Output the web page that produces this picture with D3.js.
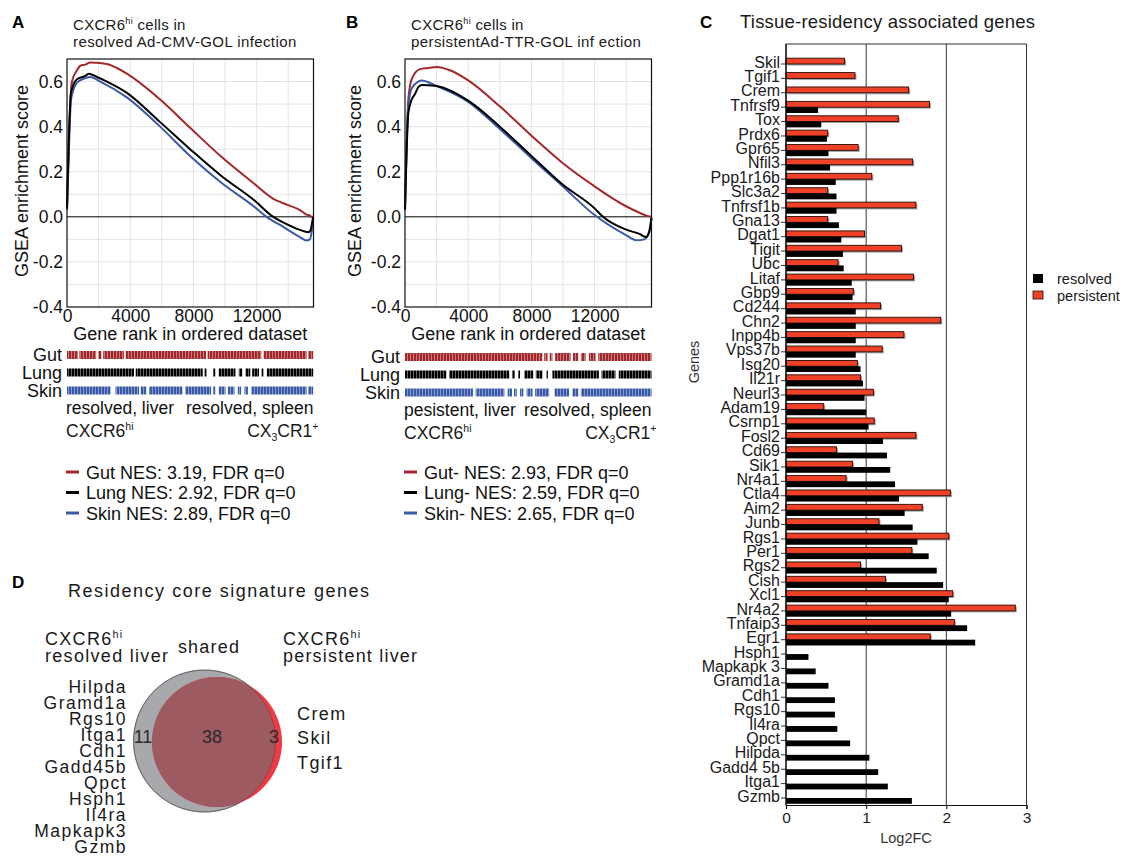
<!DOCTYPE html>
<html>
<head>
<meta charset="utf-8">
<script src="https://cdn.jsdelivr.net/npm/d3@7"></script>
<style>
  body { margin: 0; background: #fff; }
  text { font-family: "Liberation Sans", Arial, sans-serif; }
</style>
</head>
<body>
<div id="chart"></div>
<script>
// ---------- data ----------
const gseaXTicks = [0, 4000, 8000, 12000];
const gseaYTicks = [-0.4, -0.2, 0.0, 0.2, 0.4, 0.6];
const tissues = ["Gut", "Lung", "Skin"];

// running enrichment score, [gene rank, ES]
const gutA = [[0,0.03],[120,0.35],[316,0.6],[632,0.65],[842,0.67],[1158,0.675],[1474,0.685],[1895,0.683],[2526,0.678],[3158,0.66],[3789,0.635],[5895,0.52],[7789,0.395],[9789,0.265],[11789,0.15],[13053,0.08],[13684,0.06],[14737,0.03],[15158,0.01],[15370,0.005],[15474,0.0],[15579,0.0]];
const lungA = [[0,0.04],[120,0.35],[253,0.55],[632,0.61],[1158,0.625],[1368,0.635],[1895,0.62],[2526,0.6],[3789,0.55],[5895,0.42],[7789,0.3],[9789,0.18],[11789,0.077],[13053,0.0],[13684,-0.025],[14737,-0.058],[15263,-0.068],[15410,-0.06],[15474,-0.04],[15579,0.0]];
const skinA = [[0,0.03],[120,0.3],[253,0.52],[632,0.595],[1158,0.615],[1474,0.62],[2105,0.6],[3789,0.53],[5895,0.4],[7789,0.27],[9789,0.15],[11789,0.048],[12632,0.0],[13684,-0.045],[14737,-0.09],[15158,-0.105],[15370,-0.1],[15474,-0.07],[15579,-0.005]];
const gutB = [[0,0.03],[210,0.52],[421,0.61],[947,0.655],[1500,0.66],[2000,0.665],[2842,0.65],[4000,0.605],[6000,0.49],[8000,0.36],[9958,0.24],[11958,0.137],[13958,0.048],[14842,0.018],[15368,0.003],[15600,0.0]];
const lungB = [[0,0.03],[210,0.46],[421,0.52],[632,0.545],[842,0.575],[1053,0.585],[2000,0.58],[4000,0.515],[6000,0.4],[8000,0.27],[9958,0.144],[11958,0.04],[12526,0.0],[13958,-0.056],[14842,-0.076],[15263,-0.09],[15474,-0.064],[15600,-0.005]];
const skinB = [[0,0.03],[210,0.49],[421,0.57],[842,0.6],[1053,0.605],[2000,0.58],[4000,0.51],[6000,0.39],[8000,0.26],[9958,0.137],[11958,0.01],[13958,-0.08],[14632,-0.104],[15158,-0.1],[15474,-0.056],[15600,-0.005]];

// barcode hit regions, [start rank, end rank]
const gutHitsA = [[0,700],[785,1845],[1970,2180],[2290,3600],[3710,8800],[8900,12300],[12440,15160],[15260,15580]];
const lungHitsA = [[0,4240],[4350,8590],[8710,8840],[9260,9390],[9600,10660],[10870,11090],[11300,11600],[11720,12150],[12320,12440],[12650,15580]];
const skinHitsA = [[0,2760],[3070,4560],[4660,5020],[5190,7310],[7480,9120],[9260,9390],[9600,10030],[10180,10600],[10810,11020],[11230,11450],[11660,15160],[15260,15580]];
const gutHitsB = [[0,8700],[8810,9020],[9160,9330],[9500,10480],[10630,10970],[11130,11430],[11640,12060],[12230,15600]];
const lungHitsB = [[0,2620],[2790,6600],[6770,6940],[7150,7280],[7550,8120],[8280,8700],[8960,9040],[9330,12270],[12440,13320],[13530,15600]];
const skinHitsB = [[0,4300],[4470,6290],[6500,6770],[6900,7070],[7280,7490],[7700,8070],[8240,9120],[9460,10380],[10590,10970],[11130,15600]];

const nesA = ["Gut NES: 3.19, FDR q=0", "Lung NES: 2.92, FDR q=0", "Skin NES: 2.89, FDR q=0"];
const nesB = ["Gut- NES: 2.93, FDR q=0", "Lung- NES: 2.59, FDR q=0", "Skin- NES: 2.65, FDR q=0"];

const genes = ["Skil","Tgif1","Crem","Tnfrsf9","Tox","Prdx6","Gpr65","Nfil3","Ppp1r16b","Slc3a2","Tnfrsf1b","Gna13","Dgat1","Tigit","Ubc","Litaf","Gbp9","Cd244","Chn2","Inpp4b","Vps37b","Isg20","Il21r","Neurl3","Adam19","Csrnp1","Fosl2","Cd69","Sik1","Nr4a1","Ctla4","Aim2","Junb","Rgs1","Per1","Rgs2","Cish","Xcl1","Nr4a2","Tnfaip3","Egr1","Hsph1","Mapkapk 3","Gramd1a","Cdh1","Rgs10","Il4ra","Qpct","Hilpda","Gadd4 5b","Itga1","Gzmb"];
const resolvedFC = [null,null,null,0.40,0.44,0.51,0.53,0.55,0.62,0.63,0.63,0.66,0.69,0.71,0.72,0.82,0.83,0.87,0.87,0.87,0.87,0.93,0.96,0.98,1.00,1.03,1.21,1.26,1.30,1.36,1.41,1.48,1.58,1.64,1.78,1.88,1.96,2.03,2.06,2.26,2.36,0.28,0.37,0.53,0.61,0.61,0.64,0.80,1.04,1.15,1.27,1.57];
const persistentFC = [0.73,0.86,1.53,1.79,1.40,0.52,0.90,1.58,1.07,0.52,1.62,0.52,0.98,1.44,0.65,1.59,0.84,1.18,1.93,1.47,1.20,0.89,0.93,1.09,0.47,1.10,1.62,0.63,0.83,0.75,2.05,1.70,1.16,2.03,1.57,0.93,1.24,2.08,2.86,2.10,1.80,null,null,null,null,null,null,null,null,null,null,null];
const fcTicks = [0, 1, 2, 3];

const vennCounts = [11, 38, 3];
const resolvedOnly = ["Hilpda","Gramd1a","Rgs10","Itga1","Cdh1","Gadd45b","Qpct","Hsph1","Il4ra","Mapkapk3","Gzmb"];
const persistentOnly = ["Crem","Skil","Tgif1"];

// ---------- drawing ----------
const tissueColors = ["#a3282c", "#000000", "#3a5aa8"];

const svg = d3.select("#chart")
    .append("svg")
    .attr("width", 1128)
    .attr("height", 857);

const defs = svg.append("defs");
tissues.forEach((t, i) => {
    const p = defs.append("pattern")
        .attr("id", "stripe" + i)
        .attr("patternUnits", "userSpaceOnUse")
        .attr("width", 3)
        .attr("height", 20);
    p.append("rect").attr("width", 2.6).attr("height", 20).attr("fill", tissueColors[i]);
});

// text with a raised or lowered part
function richText(x, y, parts, size, anchor) {
    const t = svg.append("text")
        .attr("x", x).attr("y", y)
        .attr("font-size", size)
        .attr("text-anchor", anchor || "start")
        .attr("fill", "#1a1a1a");
    let shift = 0;
    parts.forEach(p => {
        const off = p.sup ? -size * 0.38 : p.sub ? size * 0.25 : 0;
        t.append("tspan")
            .attr("dy", off - shift)
            .attr("font-size", (p.sup || p.sub) ? size * 0.6 : size)
            .text(p.t);
        shift = off;
    });
    return t;
}

function panelLetter(x, y, s) {
    svg.append("text").attr("x", x).attr("y", y)
        .attr("font-size", 17).attr("font-weight", "bold").text(s);
}

function gseaPanel(cfg) {
    const left = cfg.left, right = left + 246.5;
    const top = 59, bottom = 307;
    const x = d3.scaleLinear().domain([0, 15600]).range([left, right]);
    const y = d3.scaleLinear().domain([-0.4, 0.7]).range([bottom, top]);
    const g = svg.append("g");

    // grid
    g.selectAll(".vg").data(x.ticks(8).filter(v => v > 0)).enter()
        .append("line")
        .attr("x1", d => x(d)).attr("x2", d => x(d))
        .attr("y1", top).attr("y2", bottom)
        .attr("stroke", "#e3e3e3").attr("stroke-width", 1);
    g.selectAll(".hg").data(y.ticks(11).filter(v => Math.abs(v) > 1e-9 && v > -0.39 && v < 0.69)).enter()
        .append("line")
        .attr("x1", left).attr("x2", right)
        .attr("y1", d => y(d)).attr("y2", d => y(d))
        .attr("stroke", "#e3e3e3").attr("stroke-width", 1);

    // zero line
    g.append("line")
        .attr("x1", left).attr("x2", right)
        .attr("y1", y(0)).attr("y2", y(0))
        .attr("stroke", "#000").attr("stroke-width", 1);

    // curves
    const line = d3.line().x(d => x(d[0])).y(d => y(d[1])).curve(d3.curveMonotoneX);
    [0, 2, 1].forEach(i => {
        g.append("path")
            .datum(cfg.curves[i])
            .attr("fill", "none")
            .attr("stroke", tissueColors[i])
            .attr("stroke-width", 2)
            .attr("stroke-linejoin", "round")
            .attr("d", line);
    });

    // frame
    g.append("rect")
        .attr("x", left).attr("y", top)
        .attr("width", right - left).attr("height", bottom - top)
        .attr("fill", "none").attr("stroke", "#111").attr("stroke-width", 1.2);

    // axes
    const ya = g.append("g")
        .attr("transform", `translate(${left},0)`)
        .call(d3.axisLeft(y).tickValues(gseaYTicks).tickSize(0).tickPadding(4)
            .tickFormat(d => d.toFixed(1)));
    ya.select(".domain").remove();
    ya.selectAll("text").attr("font-size", 17.5).attr("fill", "#111")
        .style("font-family", "'Liberation Sans', Arial, sans-serif");

    const xa = g.append("g")
        .attr("transform", `translate(0,${bottom})`)
        .call(d3.axisBottom(x).tickValues(gseaXTicks).tickSize(0).tickPadding(3)
            .tickFormat(d3.format("d")));
    xa.select(".domain").remove();
    xa.selectAll("text").attr("font-size", 17.5).attr("fill", "#111")
        .style("font-family", "'Liberation Sans', Arial, sans-serif");

    svg.append("text")
        .attr("x", (left + right) / 2).attr("y", 340)
        .attr("text-anchor", "middle").attr("font-size", 18).attr("fill", "#111")
        .text("Gene rank in ordered dataset");

    svg.append("text")
        .attr("transform", `translate(${cfg.ylabX},${(top + bottom) / 2 - 2}) rotate(-90)`)
        .attr("text-anchor", "middle").attr("font-size", 18).attr("fill", "#111")
        .text("GSEA enrichment score");

    // title
    richText(left + 6, 30, [{t: "CXCR6"}, {t: "hi", sup: true}, {t: " cells in"}], 15)
        .attr("letter-spacing", 0.3);
    svg.append("text").attr("x", left + 6).attr("y", 47)
        .attr("font-size", 15).attr("letter-spacing", 0.4).attr("fill", "#1a1a1a")
        .text(cfg.title2);

    // barcodes
    const rowTop = [351, 368.5, 386.5].map(v => v + cfg.dy);
    cfg.hits.forEach((segs, i) => {
        g.selectAll(null).data(segs).enter()
            .append("rect")
            .attr("x", d => x(d[0]))
            .attr("width", d => Math.max(1.2, x(d[1]) - x(d[0])))
            .attr("y", rowTop[i]).attr("height", 8)
            .attr("fill", `url(#stripe${i})`);
        svg.append("text")
            .attr("x", left - 5).attr("y", rowTop[i] + 10)
            .attr("text-anchor", "end").attr("font-size", 18).attr("fill", "#111")
            .text(tissues[i]);
    });

    svg.append("text").attr("x", left - 1).attr("y", 414 + cfg.dy)
        .attr("font-size", 17.5).attr("fill", "#111").text(cfg.lowLeft);
    svg.append("text").attr("x", right).attr("y", 414 + cfg.dy)
        .attr("text-anchor", "end").attr("font-size", 17.5).attr("fill", "#111").text(cfg.lowRight);
    richText(left - 1, 437 + cfg.dy, [{t: "CXCR6"}, {t: "hi", sup: true}], 17.5);
    richText(right + 5, 437 + cfg.dy, [{t: "CX"}, {t: "3", sub: true}, {t: "CR1"}, {t: "+", sup: true}], 17.5, "end");

    // legend
    const ly = [472, 492.5, 513];
    cfg.nes.forEach((s, i) => {
        svg.append("line")
            .attr("x1", left - 1).attr("x2", left + 12)
            .attr("y1", ly[i]).attr("y2", ly[i])
            .attr("stroke", tissueColors[i]).attr("stroke-width", 3);
        svg.append("text")
            .attr("x", left + 19).attr("y", ly[i] + 6.5)
            .attr("font-size", 18).attr("fill", "#111")
            .text(s);
    });
}

panelLetter(12, 28, "A");
gseaPanel({
    left: 67, ylabX: 27.5, dy: 0,
    title2: "resolved Ad-CMV-GOL infection",
    curves: [gutA, lungA, skinA],
    hits: [gutHitsA, lungHitsA, skinHitsA],
    nes: nesA,
    lowLeft: "resolved, liver", lowRight: "resolved, spleen"
});

panelLetter(346, 28, "B");
gseaPanel({
    left: 405, ylabX: 361, dy: 2,
    title2: "persistentAd-TTR-GOL inf ection",
    curves: [gutB, lungB, skinB],
    hits: [gutHitsB, lungHitsB, skinHitsB],
    nes: nesB,
    lowLeft: "pesistent, liver", lowRight: "resolved, spleen"
});

// ---------- panel C ----------
panelLetter(700, 28, "C");
svg.append("text").attr("x", 740).attr("y", 28)
    .attr("font-size", 18.5).attr("fill", "#1a1a1a")
    .attr("textLength", 295).attr("lengthAdjust", "spacing")
    .text("Tissue-residency associated genes");

const cTop = 44, cBottom = 805;
const xC = d3.scaleLinear().domain([0, 3]).range([786, 1026.5]);
const yC = d3.scaleBand().domain(genes).range([56.8, 805.2]);
const mid = g => yC(g) + yC.bandwidth() / 2;
const barH = 5.8;

const gc = svg.append("g");
gc.selectAll(".grid").data(fcTicks.slice(1)).enter()
    .append("line")
    .attr("x1", d => xC(d)).attr("x2", d => xC(d))
    .attr("y1", cTop).attr("y2", cBottom)
    .attr("stroke", "#333").attr("stroke-width", 1);
gc.append("line")
    .attr("x1", xC(0)).attr("x2", xC(3))
    .attr("y1", cTop).attr("y2", cTop)
    .attr("stroke", "#333").attr("stroke-width", 1);

const rows = genes.map((g, i) => ({gene: g, res: resolvedFC[i], per: persistentFC[i]}));

// persistent bars with shadow
gc.selectAll(".psh").data(rows.filter(d => d.per != null)).enter()
    .append("rect")
    .attr("x", xC(0) + 1.5)
    .attr("y", d => mid(d.gene) - barH + 1.5)
    .attr("width", d => xC(d.per) - xC(0))
    .attr("height", barH)
    .attr("fill", "#a0a0a0");
gc.selectAll(".per").data(rows.filter(d => d.per != null)).enter()
    .append("rect")
    .attr("x", xC(0))
    .attr("y", d => mid(d.gene) - barH)
    .attr("width", d => xC(d.per) - xC(0))
    .attr("height", barH)
    .attr("fill", "#ee4127")
    .attr("stroke", "#2a0a05").attr("stroke-width", 0.9);
gc.selectAll(".res").data(rows.filter(d => d.res != null)).enter()
    .append("rect")
    .attr("x", xC(0))
    .attr("y", d => mid(d.gene))
    .attr("width", d => xC(d.res) - xC(0))
    .attr("height", barH)
    .attr("fill", "#000");

const yAx = gc.append("g")
    .attr("transform", `translate(${xC(0)},0)`)
    .call(d3.axisLeft(yC).tickSize(5).tickPadding(1));
yAx.select(".domain").remove();
yAx.selectAll("line").attr("stroke", "#333");
yAx.selectAll("text").attr("font-size", 16).attr("fill", "#1a1a1a").attr("y", -1.5)
    .style("font-family", "'Liberation Sans', Arial, sans-serif");
gc.append("line")
    .attr("x1", xC(0)).attr("x2", xC(0))
    .attr("y1", cTop).attr("y2", cBottom)
    .attr("stroke", "#111").attr("stroke-width", 1.6);

const xAx = gc.append("g")
    .attr("transform", `translate(0,${cBottom})`)
    .call(d3.axisBottom(xC).tickValues(fcTicks).tickSize(4).tickPadding(3)
        .tickFormat(d3.format("d")));
xAx.select(".domain").attr("stroke", "#111").attr("stroke-width", 1.2);
xAx.selectAll("text").attr("font-size", 15.5).attr("fill", "#1a1a1a")
    .style("font-family", "'Liberation Sans', Arial, sans-serif");

svg.append("text").attr("x", 906).attr("y", 843)
    .attr("text-anchor", "middle").attr("font-size", 14.5).attr("fill", "#333")
    .text("Log2FC");
svg.append("text")
    .attr("transform", "translate(699,362) rotate(-90)")
    .attr("text-anchor", "middle").attr("font-size", 14.5).attr("fill", "#333")
    .text("Genes");

// legend
svg.append("rect").attr("x", 1033).attr("y", 274).attr("width", 10).attr("height", 9).attr("fill", "#000");
svg.append("text").attr("x", 1057).attr("y", 283.5).attr("font-size", 14.5).attr("fill", "#1a1a1a").text("resolved");
svg.append("rect").attr("x", 1033).attr("y", 291).attr("width", 10).attr("height", 8)
    .attr("fill", "#ee4127").attr("stroke", "#2a0a05").attr("stroke-width", 0.8);
svg.append("text").attr("x", 1057).attr("y", 300.5).attr("font-size", 14.5).attr("fill", "#1a1a1a").text("persistent");

// ---------- panel D ----------
panelLetter(12, 588, "D");
svg.append("text").attr("x", 68).attr("y", 597)
    .attr("font-size", 18).attr("fill", "#1a1a1a")
    .attr("textLength", 301).attr("lengthAdjust", "spacing")
    .text("Residency core signature genes");

richText(45, 645, [{t: "CXCR6"}, {t: "hi", sup: true}], 18).attr("letter-spacing", 1.3);
svg.append("text").attr("x", 45).attr("y", 662).attr("font-size", 18)
    .attr("letter-spacing", 1.3).attr("fill", "#1a1a1a").text("resolved liver");
svg.append("text").attr("x", 209).attr("y", 653).attr("text-anchor", "middle").attr("font-size", 18)
    .attr("letter-spacing", 1.2).attr("fill", "#1a1a1a").text("shared");
richText(283, 645, [{t: "CXCR6"}, {t: "hi", sup: true}], 18).attr("letter-spacing", 1.3);
svg.append("text").attr("x", 283).attr("y", 662).attr("font-size", 18)
    .attr("letter-spacing", 1.2).attr("fill", "#1a1a1a").text("persistent liver");

svg.selectAll(".ro").data(resolvedOnly).enter()
    .append("text")
    .attr("x", 127).attr("y", (d, i) => 693 + i * 16)
    .attr("text-anchor", "end").attr("font-size", 17.5).attr("letter-spacing", 1.5)
    .attr("fill", "#1a1a1a")
    .text(d => d);
svg.selectAll(".po").data(persistentOnly).enter()
    .append("text")
    .attr("x", 297).attr("y", (d, i) => 719.5 + i * 24.5)
    .attr("font-size", 18).attr("letter-spacing", 1.4)
    .attr("fill", "#1a1a1a")
    .text(d => d);

// venn circles
const grey = {cx: 204.5, cy: 741, r: 71};
const red = {cx: 217, cy: 742, r: 65};
defs.append("clipPath").attr("id", "greyClip")
    .append("circle").attr("cx", grey.cx).attr("cy", grey.cy).attr("r", grey.r);
svg.append("circle").attr("cx", grey.cx).attr("cy", grey.cy).attr("r", grey.r)
    .attr("fill", "#a7a9ac").attr("stroke", "#6b6b6b").attr("stroke-width", 0.8);
svg.append("circle").attr("cx", red.cx).attr("cy", red.cy).attr("r", red.r)
    .attr("fill", "#ee3a45");
svg.append("circle").attr("cx", red.cx).attr("cy", red.cy).attr("r", red.r)
    .attr("clip-path", "url(#greyClip)")
    .attr("fill", "#9d5a60");
svg.append("circle").attr("cx", grey.cx).attr("cy", grey.cy).attr("r", grey.r)
    .attr("fill", "none").attr("stroke", "#4a3032").attr("stroke-width", 0.7).attr("stroke-opacity", 0.6);

const vennX = [143, 212, 274];
vennCounts.forEach((c, i) => {
    svg.append("text").attr("x", vennX[i]).attr("y", 742.5)
        .attr("text-anchor", "middle").attr("font-size", 18).attr("fill", "#2a2a2a")
        .text(c);
});
</script>
</body>
</html>
